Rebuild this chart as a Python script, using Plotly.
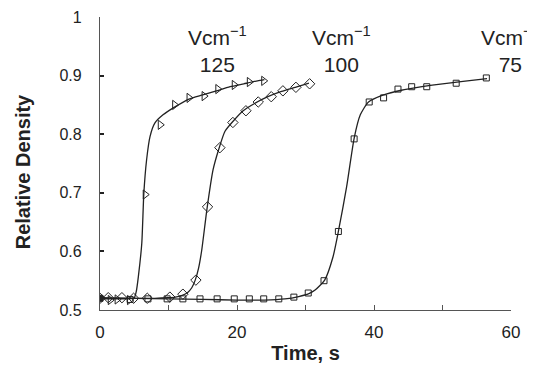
import plotly.graph_objects as go

# ---- data ----
tri_x = [0, 1.5, 2.5, 4.3, 6.6, 8.8, 10.9, 13.0, 15.2, 17.2, 19.6, 21.8, 23.9]
tri_y = [0.520, 0.517, 0.518, 0.517, 0.697, 0.816, 0.850, 0.862, 0.865, 0.877, 0.884, 0.889, 0.891]

dia_x = [0, 1.2, 3.2, 4.9, 6.9, 10.2, 12.1, 14.0, 15.7, 17.5, 19.4, 21.3, 23.1, 25.0, 26.7, 28.6, 30.6]
dia_y = [0.520, 0.521, 0.521, 0.520, 0.520, 0.522, 0.527, 0.551, 0.676, 0.777, 0.820, 0.840, 0.855, 0.864, 0.874, 0.880, 0.886]

sq_x = [0, 4.4, 7.0, 9.8, 12.1, 14.6, 17.1, 19.6, 21.8, 23.9, 26.1, 28.3, 30.4, 32.7, 34.8,
        37.1, 39.3, 41.4, 43.5, 45.5, 47.7, 52.0, 56.4]
sq_y = [0.520, 0.518, 0.519, 0.519, 0.519, 0.519, 0.519, 0.519, 0.519, 0.519, 0.519, 0.522, 0.529,
        0.550, 0.634, 0.792, 0.855, 0.862, 0.877, 0.881, 0.881, 0.887, 0.896]

# fitted curves
tri_fit_x = [0, 2, 4, 5, 5.3, 5.6, 6.1, 6.4, 6.8, 7.3, 8.0, 9.2, 11, 13, 15, 17, 19, 21, 23, 24]
tri_fit_y = [0.519, 0.519, 0.519, 0.521, 0.532, 0.557, 0.614, 0.699, 0.756, 0.796, 0.819, 0.833,
             0.847, 0.860, 0.867, 0.874, 0.881, 0.886, 0.891, 0.893]

dia_fit_x = [0, 4, 8, 10, 11, 12, 12.8, 13.4, 13.9, 14.4, 14.85, 15.6, 16.5, 17.3, 18.25, 19.5,
             20.9, 22.5, 24.5, 26.5, 28.5, 30.5]
dia_fit_y = [0.520, 0.520, 0.520, 0.521, 0.522, 0.525, 0.530, 0.538, 0.551, 0.572, 0.602, 0.671,
             0.739, 0.773, 0.805, 0.823, 0.840, 0.852, 0.864, 0.873, 0.880, 0.887]

sq_fit_x = [0, 5, 10, 15, 20, 24, 27, 29, 30.5, 31.4, 32.8, 34.0, 34.8, 36.0, 37.1, 38.0, 39.2,
            41.4, 44, 47, 50, 53, 56.5]
sq_fit_y = [0.521, 0.520, 0.519, 0.518, 0.517, 0.517, 0.519, 0.523, 0.528, 0.534, 0.551, 0.590,
            0.634, 0.710, 0.793, 0.833, 0.855, 0.867, 0.875, 0.881, 0.886, 0.890, 0.895]

labels = ["Vcm<sup>−1</sup><br>125", "Vcm<sup>−1</sup><br>100", "Vcm<sup>−1</sup><br>75"]
label_x = [17.2, 35.2, 59.9]
label_y = [0.945, 0.945, 0.945]

x_ticks = [0, 10, 20, 30, 40, 50, 60]
x_ticktext = ["0", "", "20", "", "40", "", "60"]
y_ticks = [0.5, 0.6, 0.7, 0.8, 0.9, 1.0]
y_ticktext = ["0.5", "0.6", "0.7", "0.8", "0.9", "1"]

ink = "#222222"
fig = go.Figure()

for fx, fy in [(tri_fit_x, tri_fit_y), (dia_fit_x, dia_fit_y), (sq_fit_x, sq_fit_y)]:
    fig.add_trace(go.Scatter(x=fx, y=fy, mode="lines",
                             line=dict(color=ink, width=1.3, shape="spline", smoothing=0.6),
                             hoverinfo="skip", showlegend=False))

sq_symbols = ["square"] + ["square-open"] * (len(sq_x) - 1)
fig.add_trace(go.Scatter(x=sq_x, y=sq_y, mode="markers", showlegend=False,
                         marker=dict(symbol=sq_symbols, size=6, color=ink,
                                     line=dict(width=1, color=ink))))
fig.add_trace(go.Scatter(x=dia_x, y=dia_y, mode="markers", showlegend=False,
                         marker=dict(symbol="diamond-open", size=8, color=ink,
                                     line=dict(width=1, color=ink))))
fig.add_trace(go.Scatter(x=tri_x, y=tri_y, mode="markers", showlegend=False,
                         marker=dict(symbol="triangle-right-open", size=8, color=ink,
                                     line=dict(width=1, color=ink))))

for t, lx, ly in zip(labels, label_x, label_y):
    fig.add_annotation(x=lx, y=ly, xref="x", yref="y", text=t, showarrow=False,
                       font=dict(family="Liberation Sans, Arial", size=21, color=ink),
                       xanchor="center", yanchor="middle", align="center")

# y-axis title placed as rotated text left of the tick labels
fig.add_annotation(x=0, y=0.47, xref="paper", yref="paper", text="<b>Relative Density</b>",
                   textangle=-90, showarrow=False, xanchor="center", yanchor="middle",
                   xshift=-77, font=dict(family="Liberation Sans, Arial", size=20, color=ink))

fig.update_layout(
    width=527, height=363,
    margin=dict(l=92, r=24, t=9, b=61, autoexpand=False),
    paper_bgcolor="white", plot_bgcolor="white",
    font=dict(family="Liberation Sans, Arial", color=ink),
    xaxis=dict(range=[0, 60], tickvals=x_ticks, ticktext=x_ticktext,
               ticks="inside", ticklen=5, tickwidth=1, tickcolor="#555",
               showline=True, linecolor="#555", linewidth=1.2,
               showgrid=False, zeroline=False, tickfont=dict(size=17),
               ticklabelstandoff=6, automargin=False,
               title=dict(text="<b>Time, s</b>", font=dict(size=20), standoff=5)),
    yaxis=dict(range=[0.5, 1.0], tickvals=y_ticks, ticktext=y_ticktext,
               ticks="inside", ticklen=4, tickwidth=2, tickcolor="#222",
               showline=True, linecolor="#555", linewidth=1.2,
               showgrid=False, zeroline=False, tickfont=dict(size=16),
               ticklabelstandoff=14, automargin=False),
)

fig.write_html("out.html")
